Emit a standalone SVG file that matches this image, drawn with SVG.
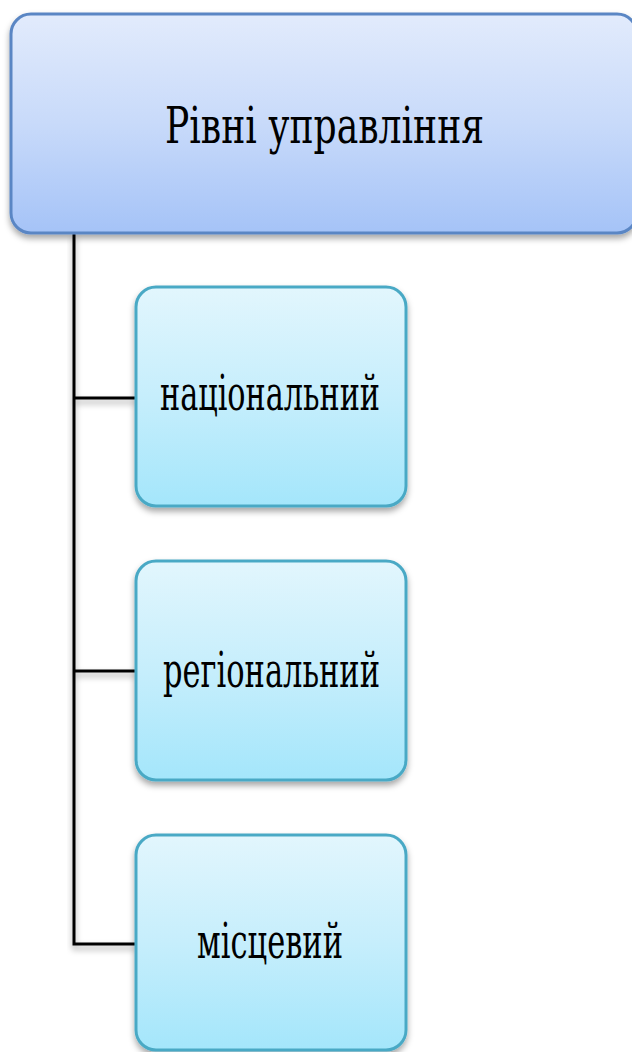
<svg xmlns="http://www.w3.org/2000/svg" width="632" height="1052" viewBox="0 0 632 1052">
<defs>
<linearGradient id="gTop" x1="0" y1="0" x2="0" y2="1">
<stop offset="0" stop-color="#e2ebfc"/>
<stop offset="0.5" stop-color="#c8dafa"/>
<stop offset="1" stop-color="#a5c3f7"/>
</linearGradient>
<linearGradient id="gChild" x1="0" y1="0" x2="0" y2="1">
<stop offset="0" stop-color="#e2f6fd"/>
<stop offset="0.5" stop-color="#c6eefc"/>
<stop offset="1" stop-color="#a4e6fb"/>
</linearGradient>
<filter id="sh" x="-10%" y="-10%" width="120%" height="125%">
<feDropShadow dx="0" dy="4" stdDeviation="3" flood-color="#000" flood-opacity="0.35"/>
</filter>
</defs>
<style>
.top{fill:url(#gTop);stroke:#5a86c4;stroke-width:3}
.child{fill:url(#gChild);stroke:#4aa9c5;stroke-width:3}
.lbl{fill:#000;font-family:"DejaVu Serif","Liberation Serif",serif}
.conn{fill:none;stroke:#000;stroke-width:3}
</style>
<g id="connectors" filter="url(#sh)">
<path class="conn" d="M74 234 V944 H136"/>
<path class="conn" d="M74 398 H136"/>
<path class="conn" d="M74 671 H136"/>
</g>
<g id="node-top">
<rect class="top" x="11" y="14" width="626" height="219" rx="20" filter="url(#sh)"/>
<text class="lbl" x="165" y="143" font-size="50" textLength="319" lengthAdjust="spacingAndGlyphs">Рівні управління</text>
</g>
<g id="node-national">
<rect class="child" x="136" y="287" width="270" height="219" rx="20" filter="url(#sh)"/>
<text class="lbl" x="160" y="410" font-size="48" textLength="220" lengthAdjust="spacingAndGlyphs">національний</text>
</g>
<g id="node-regional">
<rect class="child" x="136" y="561" width="270" height="219" rx="20" filter="url(#sh)"/>
<text class="lbl" x="163" y="687" font-size="48" textLength="217" lengthAdjust="spacingAndGlyphs">регіональний</text>
</g>
<g id="node-local">
<rect class="child" x="136" y="835" width="270" height="215" rx="20" filter="url(#sh)"/>
<text class="lbl" x="197" y="958" font-size="48" textLength="146" lengthAdjust="spacingAndGlyphs">місцевий</text>
</g>
</svg>
